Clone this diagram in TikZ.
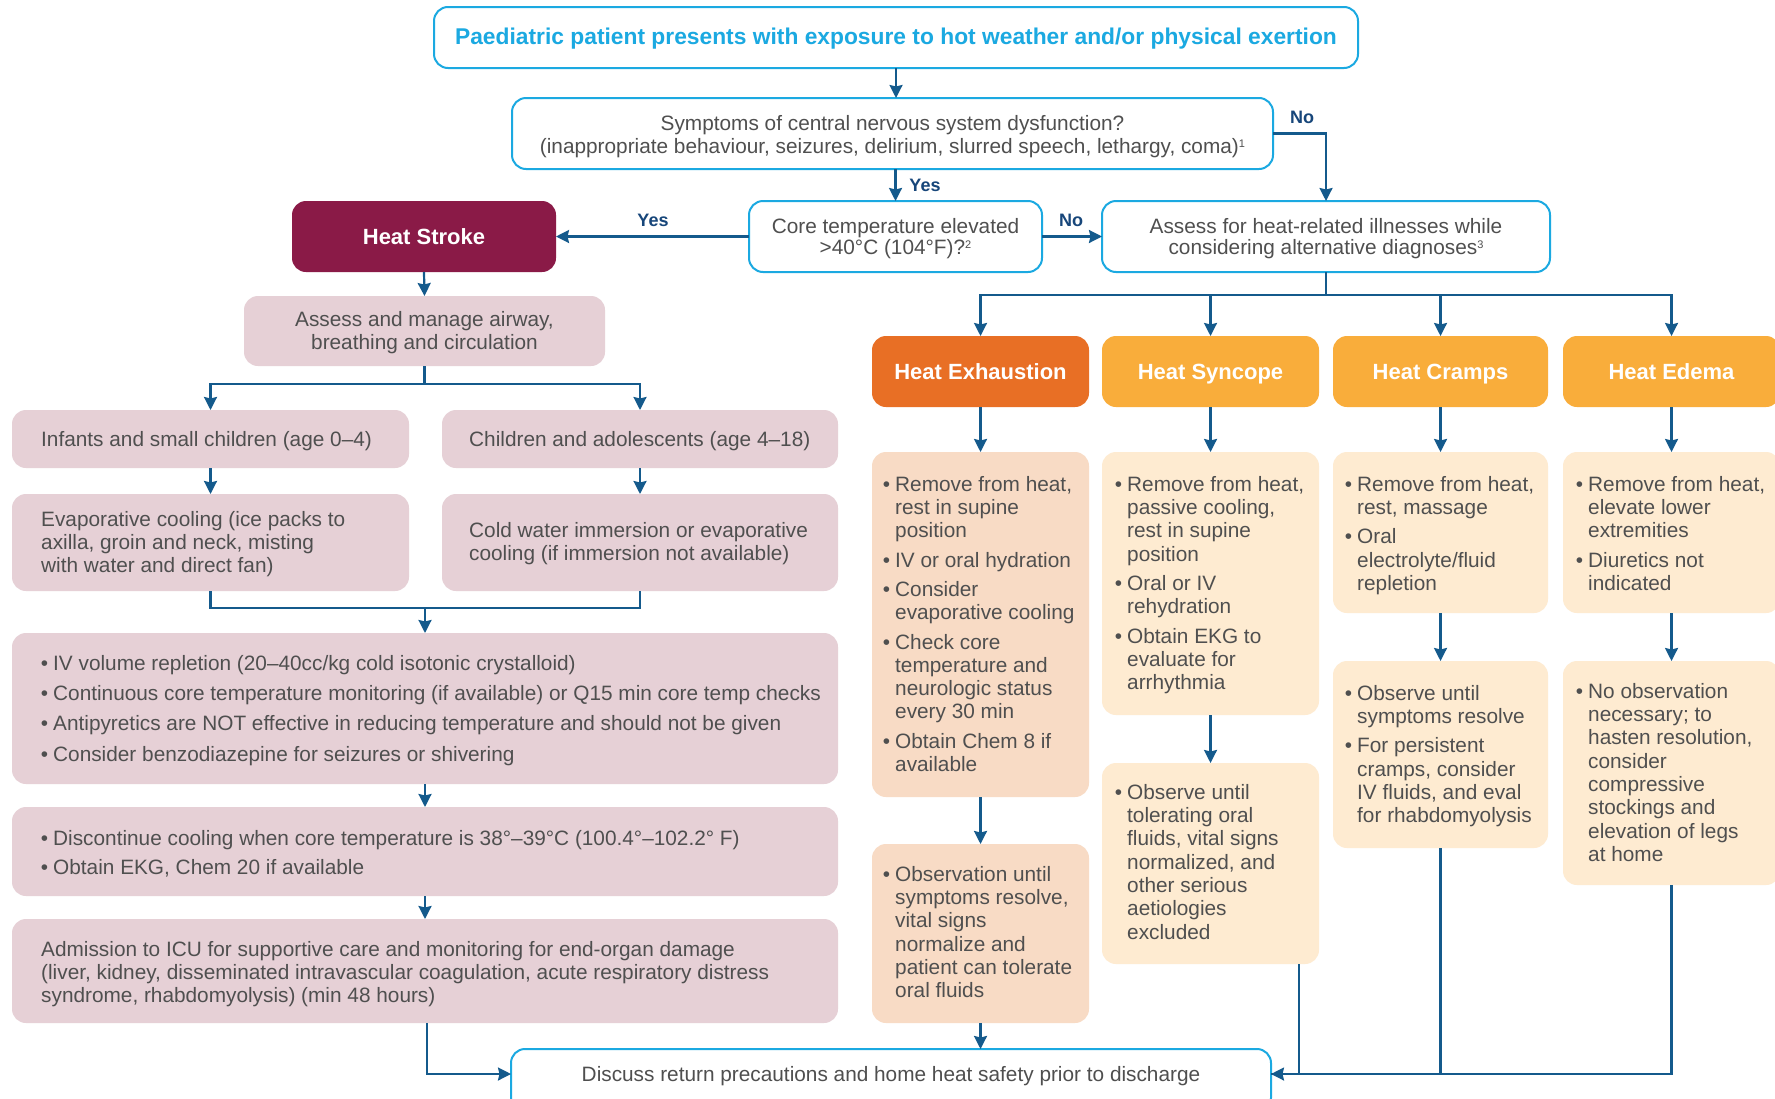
\documentclass[tikz,border=0pt]{standalone}
\usepackage{fontspec}
\setmainfont{Liberation Sans}
\usetikzlibrary{arrows.meta,calc}
\definecolor{cyanc}{HTML}{1BA9E1}
\definecolor{lblue}{HTML}{145A8C}
\definecolor{navy}{HTML}{17467A}
\definecolor{pinkc}{HTML}{E6D0D6}
\definecolor{strokec}{HTML}{8A1A47}
\definecolor{exhc}{HTML}{E86F25}
\definecolor{amberc}{HTML}{F9AD3B}
\definecolor{peachc}{HTML}{F8DBC5}
\definecolor{creamc}{HTML}{FEEBD1}
\definecolor{tgrey}{HTML}{4F4F4F}
\newcommand\bodyfont{\fontsize{20.8}{23.3}\selectfont}
\newcommand\bu{\llap{\textbullet\hspace{5pt}}}
\newcommand\sups[1]{\raisebox{6pt}{\fontsize{11}{11}\selectfont #1}}
\begin{document}
\begin{tikzpicture}[x=1pt,y=-1pt,
  box/.style={rounded corners=14pt, inner sep=0pt, outer sep=0pt},
  cyanbox/.style={box, draw=cyanc, line width=2pt, fill=white},
  pinkbox/.style={box, fill=pinkc},
  peachbox/.style={box, fill=peachc},
  creambox/.style={box, fill=creamc},
  txt/.style={inner sep=0pt, text=tgrey, font=\bodyfont},
  lst/.style={txt, anchor=north west, align=left},
  ctr/.style={txt, anchor=north, align=center},
  lab/.style={inner sep=0pt, text=navy, font=\fontsize{18}{20}\selectfont\bfseries, anchor=base},
  ttl/.style={inner sep=0pt, text=white, font=\fontsize{22}{24}\selectfont\bfseries, anchor=base},
  arr/.style={draw=lblue, line width=2.2pt, -{Stealth[length=13pt,width=13pt,inset=1.5pt]}},
  ln/.style={draw=lblue, line width=2.2pt}]
\useasboundingbox (0,0) rectangle (1775,1098);
\clip (0,0) rectangle (1775,1098);
\fill[white] (0,0) rectangle (1775,1098);

% ---- boxes
\node[cyanbox, minimum width=924pt, minimum height=61pt] (top) at (896,37.5) {};
\node[cyanbox, minimum width=761pt, minimum height=71pt] (cns) at (892.5,133.5) {};
\node[cyanbox, minimum width=293pt, minimum height=71pt] (core) at (895.5,236.5) {};
\node[cyanbox, minimum width=448pt, minimum height=71pt] (assess) at (1326,236.5) {};
\node[box, fill=strokec, minimum width=264pt, minimum height=71pt] (hs) at (424,236.5) {};
\node[pinkbox, minimum width=361pt, minimum height=70pt] (air) at (424.5,331) {};
\node[pinkbox, minimum width=397pt, minimum height=58pt] (inf) at (210.5,439) {};
\node[pinkbox, minimum width=396pt, minimum height=58pt] (chi) at (640,439) {};
\node[pinkbox, minimum width=397pt, minimum height=97pt] (eva) at (210.5,542.5) {};
\node[pinkbox, minimum width=396pt, minimum height=97pt] (col) at (640,542.5) {};
\node[pinkbox, minimum width=826pt, minimum height=151pt] (iv) at (425,708.5) {};
\node[pinkbox, minimum width=826pt, minimum height=89pt] (dis) at (425,851.5) {};
\node[pinkbox, minimum width=826pt, minimum height=104pt] (adm) at (425,971) {};
\node[cyanbox, minimum width=760pt, minimum height=63pt] (dc) at (891,1080.5) {};
\node[box, fill=exhc, minimum width=217pt, minimum height=71pt] (hex) at (980.5,371.5) {};
\node[box, fill=amberc, minimum width=217pt, minimum height=71pt] (hsy) at (1210.5,371.5) {};
\node[box, fill=amberc, minimum width=215pt, minimum height=71pt] (hcr) at (1440.5,371.5) {};
\node[box, fill=amberc, minimum width=217pt, minimum height=71pt] (hed) at (1671.5,371.5) {};
\node[peachbox, minimum width=217pt, minimum height=345pt] (exd) at (980.5,624.5) {};
\node[peachbox, minimum width=217pt, minimum height=179pt] (exo) at (980.5,933.5) {};
\node[creambox, minimum width=217pt, minimum height=263pt] (syd) at (1210.5,583.5) {};
\node[creambox, minimum width=217pt, minimum height=201pt] (syo) at (1210.5,863.5) {};
\node[creambox, minimum width=215pt, minimum height=161pt] (crd) at (1440.5,532.5) {};
\node[creambox, minimum width=215pt, minimum height=187pt] (cro) at (1440.5,754.5) {};
\node[creambox, minimum width=217pt, minimum height=161pt] (edd) at (1671.5,532.5) {};
\node[creambox, minimum width=217pt, minimum height=224pt] (edo) at (1671.5,773) {};

% ---- texts
\node[inner sep=0pt, text=cyanc, font=\fontsize{22.8}{24}\selectfont\bfseries, anchor=base] (ttop) at (896,44) {Paediatric patient presents with exposure to hot weather and/or physical exertion};
\node[ctr] (tcns) at (892.5,113.7) {\strut Symptoms of central nervous system dysfunction?\\(inappropriate behaviour, seizures, delirium, slurred speech, lethargy, coma)\sups{1}};
\node[ctr] (tcore) at (895.5,216.7) {\strut Core temperature elevated\\[-2.3pt]>40°C (104°F)?\sups{2}};
\node[ctr] (tass) at (1326,216.7) {\strut Assess for heat-related illnesses while\\[-2.3pt]considering alternative diagnoses\sups{3}};
\node[ttl] (ths) at (424,244) {Heat Stroke};
\node[ctr] (tair) at (424.5,309.7) {\strut Assess and manage airway,\\breathing and circulation};
\node[txt, anchor=base west] (tinf) at (41,446) {Infants and small children (age 0–4)};
\node[txt, anchor=base west] (tchi) at (469,446) {Children and adolescents (age 4–18)};
\node[lst] (teva) at (41,509.7) {\strut Evaporative cooling (ice packs to\\axilla, groin and neck, misting\\with water and direct fan)};
\node[lst] (tcol) at (469,520.7) {\strut Cold water immersion or evaporative\\cooling (if immersion not available)};
\node[lst] (tiv) at (53,653.7) {\strut\bu IV volume repletion (20–40cc/kg cold isotonic crystalloid)\\[7pt]\bu Continuous core temperature monitoring (if available) or Q15 min core temp checks\\[7pt]\bu Antipyretics are NOT effective in reducing temperature and should not be given\\[7pt]\bu Consider benzodiazepine for seizures or shivering};
\node[lst] (tdis) at (53,828.7) {\strut\bu Discontinue cooling when core temperature is 38°–39°C (100.4°–102.2° F)\\[6pt]\bu Obtain EKG, Chem 20 if available};
\node[lst] (tadm) at (41,939.7) {\strut Admission to ICU for supportive care and monitoring for end-organ damage\\(liver, kidney, disseminated intravascular coagulation, acute respiratory distress\\syndrome, rhabdomyolysis) (min 48 hours)};
\node[txt, anchor=base] (tdc) at (891,1081) {Discuss return precautions and home heat safety prior to discharge};

\node[ttl] (thex) at (980.5,379) {Heat Exhaustion};
\node[ttl] (thsy) at (1210.5,379) {Heat Syncope};
\node[ttl] (thcr) at (1440.5,379) {Heat Cramps};
\node[ttl] (thed) at (1671.5,379) {Heat Edema};

\node[lst] (texd) at (895,474.7) {\strut\bu Remove from heat,\\rest in supine\\position\\[6pt]\bu IV or oral hydration\\[6pt]\bu Consider\\evaporative cooling\\[6pt]\bu Check core\\temperature and\\neurologic status\\every 30 min\\[6pt]\bu Obtain Chem 8 if\\available};
\node[lst] (texo) at (895,864.7) {\strut\bu Observation until\\symptoms resolve,\\vital signs\\normalize and\\patient can tolerate\\oral fluids};
\node[lst] (tsyd) at (1127,474.7) {\strut\bu Remove from heat,\\passive cooling,\\rest in supine\\position\\[6pt]\bu Oral or IV\\rehydration\\[6pt]\bu Obtain EKG to\\evaluate for\\arrhythmia};
\node[lst] (tsyo) at (1127,782.7) {\strut\bu Observe until\\tolerating oral\\fluids, vital signs\\normalized, and\\other serious\\aetiologies\\excluded};
\node[lst] (tcrd) at (1357,474.7) {\strut\bu Remove from heat,\\rest, massage\\[6pt]\bu Oral\\electrolyte/fluid\\repletion};
\node[lst] (tcro) at (1357,683.7) {\strut\bu Observe until\\symptoms resolve\\[6pt]\bu For persistent\\cramps, consider\\IV fluids, and eval\\for rhabdomyolysis};
\node[lst] (tedd) at (1588,474.7) {\strut\bu Remove from heat,\\elevate lower\\extremities\\[6pt]\bu Diuretics not\\indicated};
\node[lst] (tedo) at (1588,681.7) {\strut\bu No observation\\necessary; to\\hasten resolution,\\consider\\compressive\\stockings and\\elevation of legs\\at home};

% ---- labels
\node[lab] (lno1) at (1302,123) {No};
\node[lab] (lyes1) at (925,191) {Yes};
\node[lab] (lyes2) at (653,226) {Yes};
\node[lab] (lno2) at (1071,226) {No};

% ---- connectors
\draw[arr] (top.south) -- (top.south |- cns.north);
\draw[arr] (core.north |- cns.south) -- (core.north);
\draw[arr] (cns.east) -| (assess.north);
\draw[arr] (core.west) -- (hs.east);
\draw[arr] (core.east) -- (assess.west);
\draw[arr] (hs.south) -- (air.north);
\coordinate (br1) at (424.5,384);
\draw[ln] (air.south) -- (br1);
\draw[arr] (br1) -| (inf.north);
\draw[arr] (br1) -| (chi.north);
\draw[arr] (inf.south) -- (eva.north);
\draw[arr] (chi.south) -- (col.north);
\coordinate (jn) at (425,608);
\draw[ln] (eva.south) |- (jn);
\draw[ln] (col.south) |- (jn);
\draw[arr] (jn) -- (iv.north);
\draw[arr] (iv.south) -- (dis.north);
\draw[arr] (dis.south) -- (adm.north);
\coordinate (dcL) at (511,1074);
\coordinate (dcR) at (1271,1074);
\draw[arr] ($(adm.south)+(2,0)$) |- (dcL);
\coordinate (br2) at (1326,295);
\draw[ln] (assess.south) -- (br2);
\draw[arr] (br2) -| (hex.north);
\draw[arr] (br2) -| (hsy.north);
\draw[arr] (br2) -| (hcr.north);
\draw[arr] (br2) -| (hed.north);
\draw[arr] (hex.south) -- (exd.north);
\draw[arr] (hsy.south) -- (syd.north);
\draw[arr] (hcr.south) -- (crd.north);
\draw[arr] (hed.south) -- (edd.north);
\draw[arr] (exd.south) -- (exo.north);
\draw[arr] (syd.south) -- (syo.north);
\draw[arr] (crd.south) -- (cro.north);
\draw[arr] (edd.south) -- (edo.north);
\draw[arr] (exo.south) -- (exo.south |- dc.north);
\draw[ln] ($(syo.south east)+(-20,0)$) |- (dcR);
\draw[ln] (cro.south) |- (dcR);
\draw[arr] (edo.south) |- (dcR);
\end{tikzpicture}
\end{document}
